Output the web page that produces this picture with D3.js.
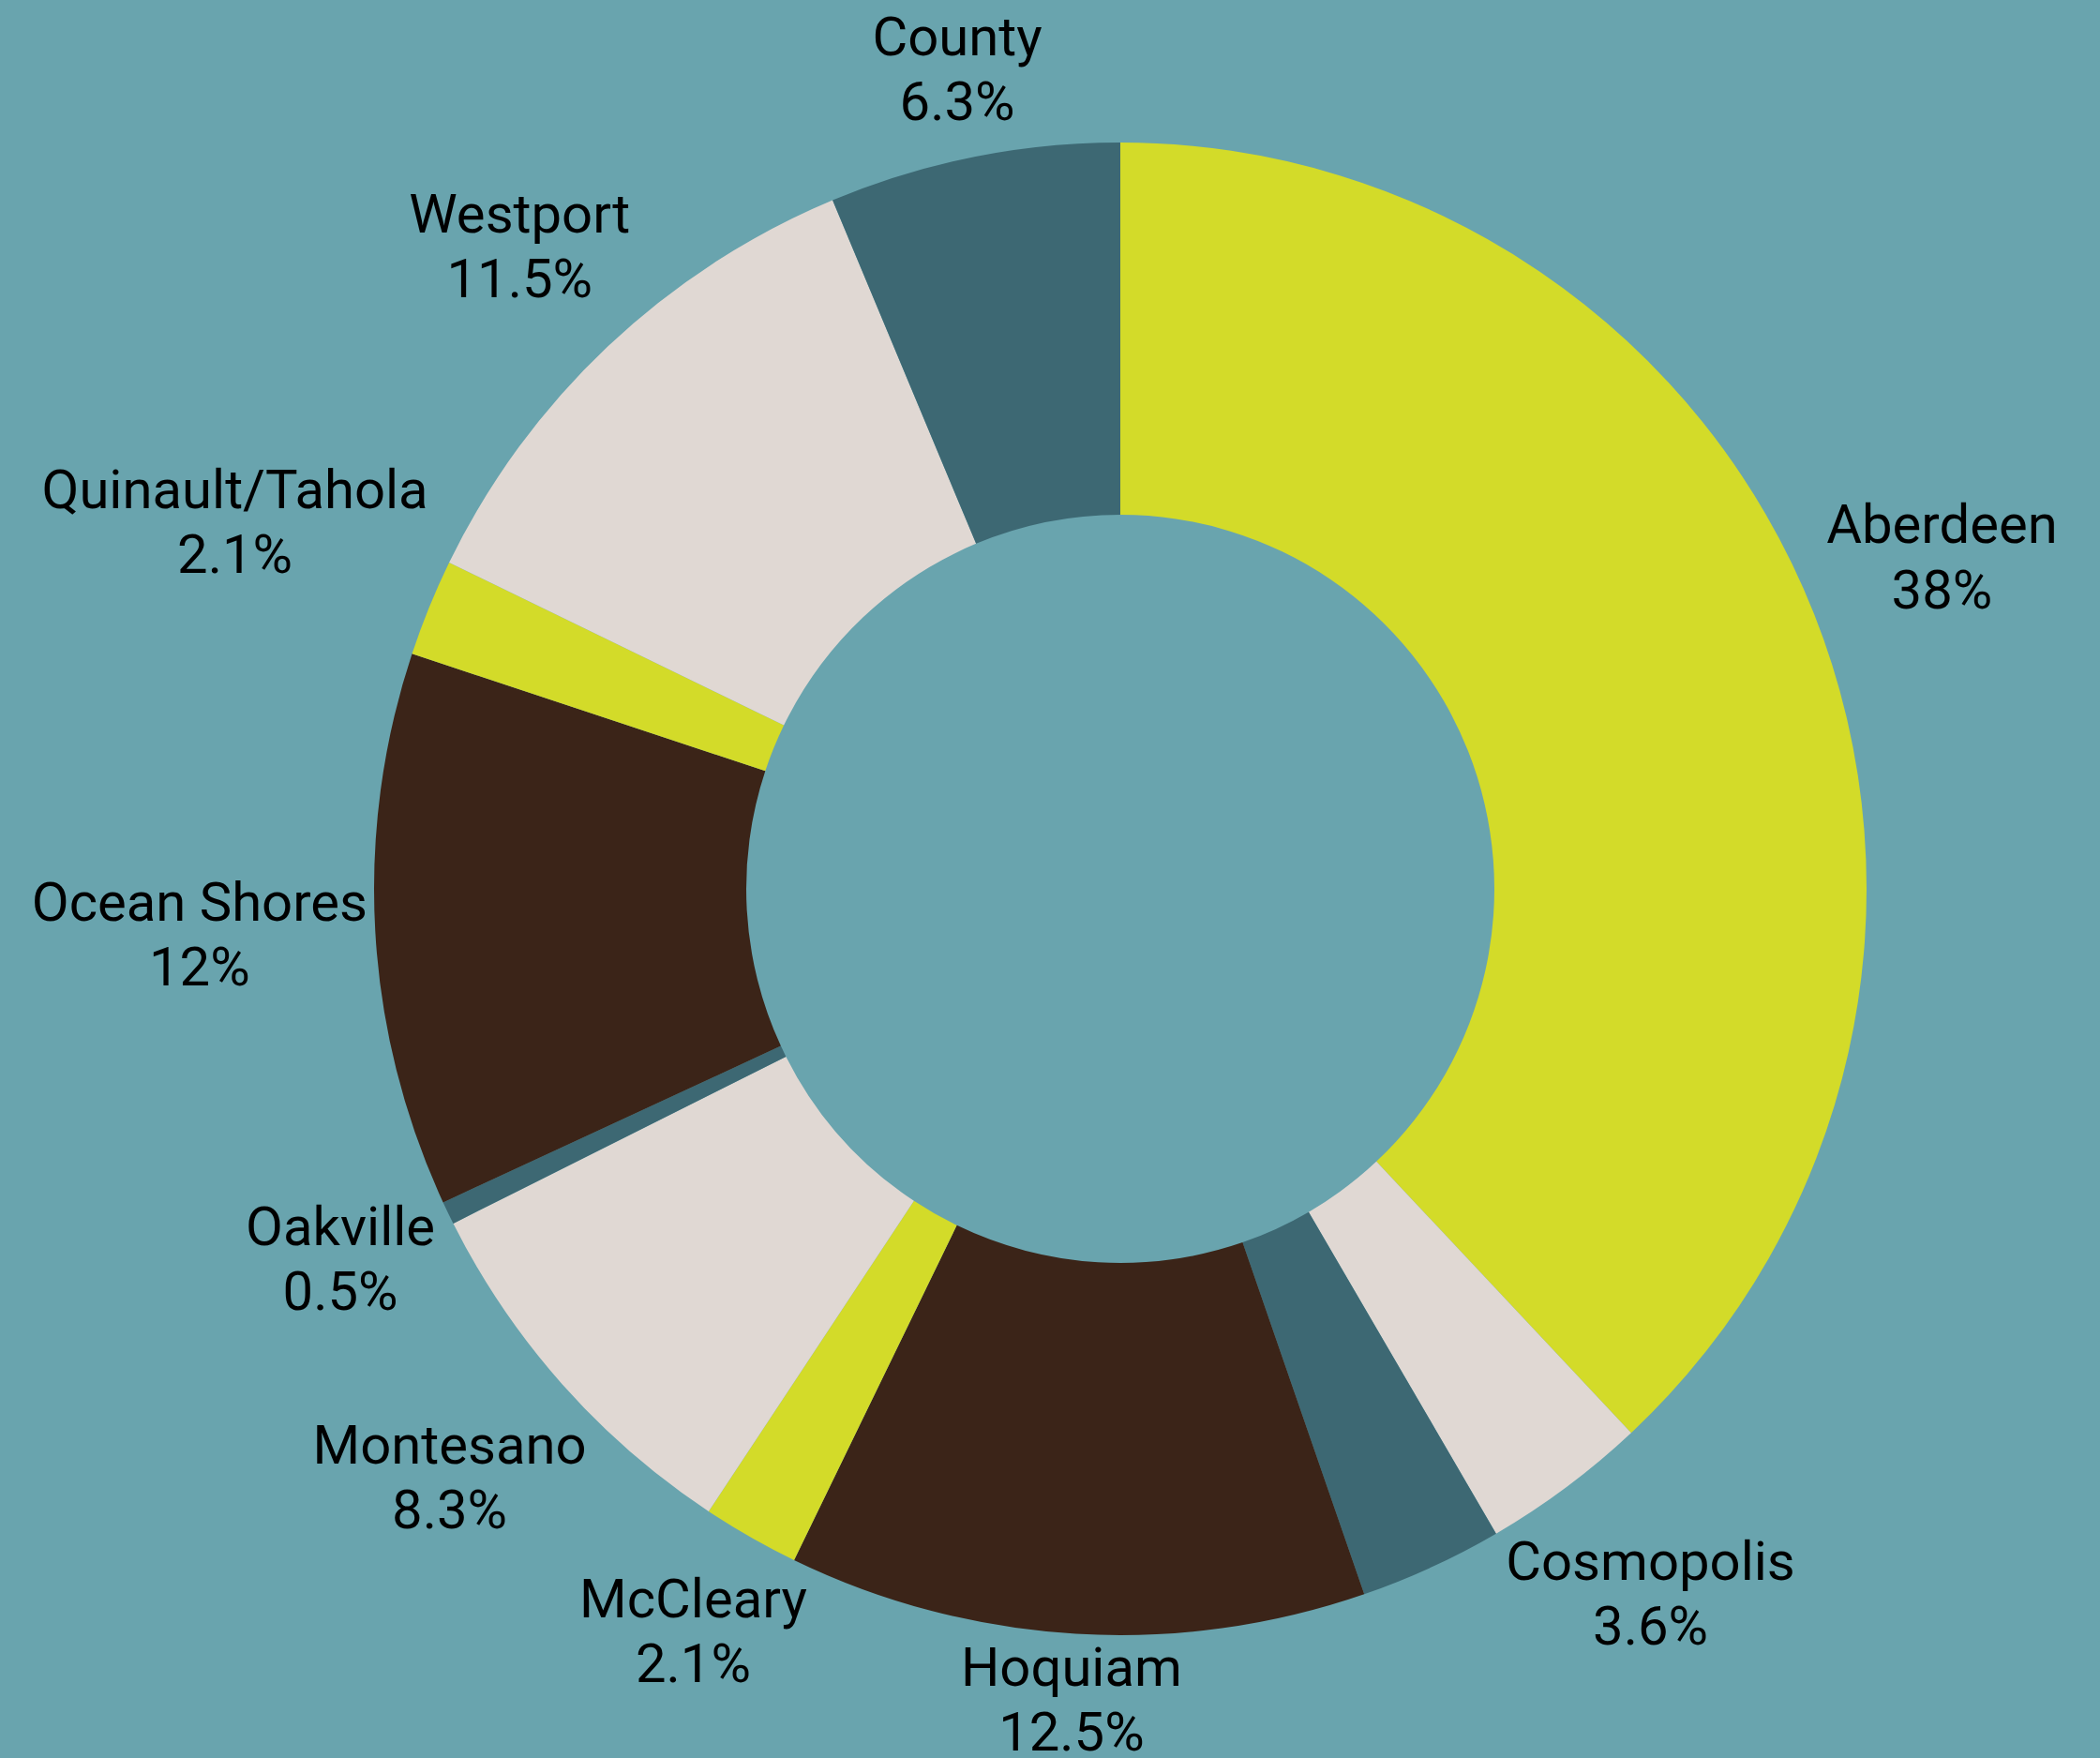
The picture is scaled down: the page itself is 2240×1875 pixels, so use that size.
<!DOCTYPE html>
<html>
<head>
<meta charset="utf-8">
<script src="https://cdn.jsdelivr.net/npm/d3@7"></script>
<style>
	body { margin: 0; background: #69a4ae; }
	text { font-family: "Roboto", "Liberation Sans", sans-serif; font-weight: 400; fill: #000; }
</style>
</head>
<body>
<svg id="chart"></svg>
<script>
// share of total per town, clockwise from 12 o'clock
const towns = ["Aberdeen", "Cosmopolis", "Elma", "Hoquiam", "McCleary", "Montesano", "Oakville", "Ocean Shores", "Quinault/Tahola", "Westport", "County"];
const shares = [38, 3.6, 3.1, 12.5, 2.1, 8.3, 0.5, 12, 2.1, 11.5, 6.3];
const sliceColors = ["#d3db29", "#e0d8d3", "#3d6873", "#3b2418"];

const W = 2240, H = 1875;
const cx = 1195, cy = 948;
const outerR = 796, innerR = 399;
const labelGap = 7;
const fontSize = 58;

let svg = d3.select("#chart").attr("width", W).attr("height", H);
svg.append("rect").attr("width", W).attr("height", H).attr("fill", "#69a4ae");

let color = d3.scaleOrdinal().domain(towns).range(sliceColors);

let rows = towns.map(function(t, i) { return {town: t, share: shares[i]}; });
let pie = d3.pie().value(function(d) { return d.share; }).sort(null);
let arc = d3.arc().innerRadius(innerR).outerRadius(outerR);
let arcs = pie(rows);

let g = svg.append("g").attr("transform", "translate(" + cx + "," + cy + ")");

g.selectAll("path.slice").data(arcs).enter().append("path")
	.attr("class", "slice")
	.attr("d", arc)
	.attr("fill", function(d) { return color(d.data.town); });

// labels: pushed out along the mid angle until the box clears the ring
let labels = g.selectAll("g.label").data(arcs).enter().append("g").attr("class", "label");
let txt = labels.append("text")
	.attr("text-anchor", "middle")
	.style("font-size", fontSize + "px");
txt.append("tspan").attr("x", 0).attr("dy", 0).text(function(d) { return d.data.town; });
txt.append("tspan").attr("x", 0).attr("dy", "1.19em").text(function(d) { return d.data.share + "%"; });

function nearestDist(px, py, hw, hh) {
	let dx = Math.max(Math.abs(px) - hw, 0);
	let dy = Math.max(Math.abs(py) - hh, 0);
	return Math.sqrt(dx * dx + dy * dy);
}

let placed = [];
labels.each(function(d) {
	let bb = this.getBBox();
	let hw = bb.width / 2, hh = bb.height / 2;
	let a = (d.startAngle + d.endAngle) / 2;
	let ux = Math.sin(a), uy = -Math.cos(a);
	let lo = 0, hi = outerR * 2;
	for (let k = 0; k < 60; k++) {
		let m = (lo + hi) / 2;
		if (nearestDist(ux * m, uy * m, hw, hh) < outerR + labelGap) lo = m; else hi = m;
	}
	let px = ux * lo, py = uy * lo;
	let box = {x0: px - hw, x1: px + hw, y0: py - hh, y1: py + hh};
	let hit = placed.some(function(b) {
		return box.x0 < b.x1 && box.x1 > b.x0 && box.y0 < b.y1 && box.y1 > b.y0;
	});
	if (hit) {
		// overlapping label is dropped, as in the original
		d3.select(this).remove();
		return;
	}
	placed.push(box);
	// glyphs sit a little high in their box
	d3.select(this).attr("transform", "translate(" + (px - (bb.x + hw)) + "," + (py - (bb.y + hh) - 7) + ")");
});
</script>
</body>
</html>
